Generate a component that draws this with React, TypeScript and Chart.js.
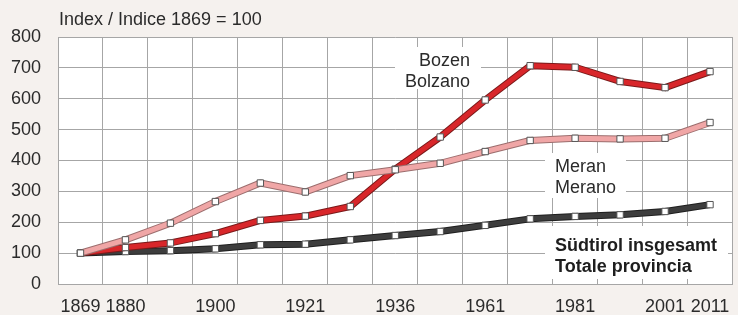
import { useEffect, useRef } from 'react';
import { Chart, registerables } from 'chart.js';
Chart.register(...registerables);

const categories = ['1869', '1880', '1890', '1900', '1910', '1921', '1931', '1936', '1951', '1961', '1971', '1981', '1991', '2001', '2011'];
const shownTicks = ['1869', '1880', '1900', '1921', '1936', '1961', '1981', '2001', '2011'];
const bozen = [100, 118, 133, 163, 206, 220, 251, 372, 476, 596, 707, 702, 656, 636, 688];
const meran = [100, 143, 197, 267, 327, 298, 351, 370, 391, 429, 465, 472, 470, 472, 523];
const total = [100, 105, 108, 114, 127, 129, 143, 157, 170, 190, 211, 219, 224, 235, 257];
const yTicks = [0, 100, 200, 300, 400, 500, 600, 700, 800];

const FONT = '"Liberation Sans", Arial, Helvetica, sans-serif';

export default function App() {
  const ref = useRef<HTMLCanvasElement>(null);
  useEffect(() => {
    document.body.style.margin = '0';
    const canvas = ref.current!;

    const bgPlugin = {
      id: 'bg',
      beforeDraw(chart: any) {
        const { ctx, chartArea: a } = chart;
        ctx.save();
        ctx.fillStyle = '#f5f1ee';
        ctx.fillRect(0, 0, chart.width, chart.height);
        ctx.fillStyle = '#ffffff';
        ctx.fillRect(a.left, a.top, a.right - a.left, a.bottom - a.top);
        ctx.restore();
      },
    };

    const textPlugin = {
      id: 'texts',
      beforeDatasetsDraw(chart: any) {
        const { ctx, chartArea: a } = chart;
        ctx.save();
        ctx.fillStyle = '#2b2b2b';
        ctx.font = `18px ${FONT}`;
        ctx.textBaseline = 'middle';
        ctx.textAlign = 'left';
        ctx.fillText('Index / Indice 1869 = 100', a.left + 1, 20);

        const box = (x0: number, y0: number, x1: number, y1: number) => {
          ctx.fillStyle = '#ffffff';
          ctx.fillRect(x0, y0, x1 - x0, y1 - y0);
        };
        box(395, 47, 481, 89);
        ctx.fillStyle = '#2b2b2b';
        ctx.font = `18px ${FONT}`;
        ctx.textAlign = 'right';
        ctx.fillText('Bozen', 470, 61);
        ctx.fillText('Bolzano', 470, 82);

        box(545, 153, 626, 198);
        ctx.fillStyle = '#2b2b2b';
        ctx.textAlign = 'left';
        ctx.fillText('Meran', 555, 167);
        ctx.fillText('Merano', 555, 188);

        box(545, 226, 728, 279);
        ctx.fillStyle = '#1e1e1e';
        ctx.font = `bold 18px ${FONT}`;
        ctx.fillText('Südtirol insgesamt', 555, 246);
        ctx.fillText('Totale provincia', 555, 267);
        ctx.restore();
      },
    };

    const outline = (data: number[], color: string, order: number) => ({
      data,
      borderColor: color,
      borderWidth: 7,
      pointRadius: 0,
      tension: 0,
      borderJoinStyle: 'round' as const,
      order,
    });
    const inner = (data: number[], color: string, order: number) => ({
      data,
      borderColor: color,
      borderWidth: 5,
      tension: 0,
      borderJoinStyle: 'round' as const,
      pointStyle: 'rect' as const,
      pointRadius: 4.5,
      pointBorderWidth: 1,
      pointBackgroundColor: '#ffffff',
      pointBorderColor: '#555555',
      order,
    });

    const chart = new Chart(canvas, {
      type: 'line',
      data: {
        labels: categories,
        datasets: [
          inner(meran, '#f0a6a6', 0),
          outline(meran, '#9c6e6e', 1),
          inner(bozen, '#d8262a', 2),
          outline(bozen, '#7a1a1a', 3),
          inner(total, '#3d3d3d', 4),
          outline(total, '#1f1f1f', 5),
        ],
      },
      options: {
        responsive: false,
        animation: false,
        devicePixelRatio: 1,
        layout: { padding: { top: 37, right: 3, left: 0, bottom: 0 } },
        plugins: { legend: { display: false }, tooltip: { enabled: false } },
        scales: {
          x: {
            type: 'category',
            offset: true,
            grid: { offset: true, color: '#a6a6a6', drawTicks: false, lineWidth: 1 },
            border: { color: '#a6a6a6' },
            ticks: {
              autoSkip: false,
              maxRotation: 0,
              padding: 12,
              color: '#2b2b2b',
              font: { family: FONT, size: 18 },
              callback: (_v: any, i: number) => (shownTicks.includes(categories[i]) ? categories[i] : ''),
            },
            afterFit: (s: any) => {
              s.height = 31;
              s.paddingLeft = 0;
              s.paddingRight = 0;
            },
          },
          y: {
            min: yTicks[0],
            max: yTicks[yTicks.length - 1],
            grid: { color: '#a6a6a6', drawTicks: false, lineWidth: 1 },
            border: { color: '#a6a6a6' },
            afterBuildTicks: (s: any) => {
              s.ticks = yTicks.map((v) => ({ value: v }));
            },
            ticks: {
              padding: 17,
              color: '#2b2b2b',
              font: { family: FONT, size: 18 },
            },
            afterFit: (s: any) => {
              s.width = 58;
              s.paddingTop = 0;
              s.paddingBottom = 0;
            },
          },
        },
      },
      plugins: [bgPlugin, textPlugin],
    });
    return () => chart.destroy();
  }, []);

  return <canvas ref={ref} width={738} height={315} style={{ display: 'block' }} />;
}
